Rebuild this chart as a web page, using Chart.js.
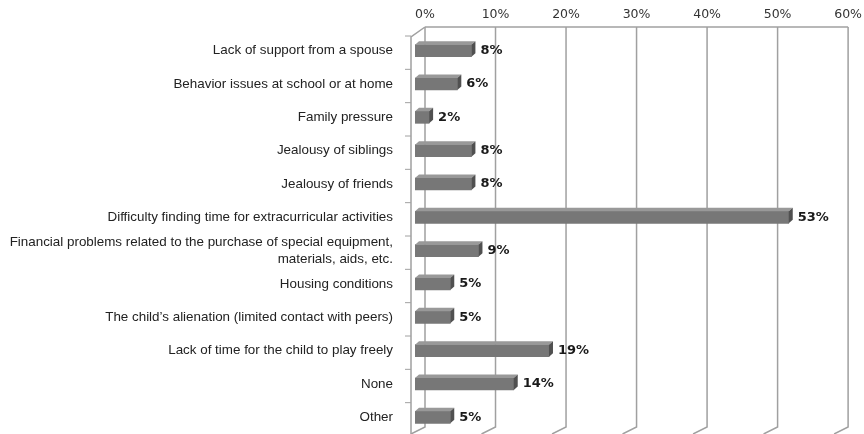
<!DOCTYPE html>
<html>
<head>
<meta charset="utf-8">
<script src="https://cdn.jsdelivr.net/npm/chart.js@4"></script>
<style>
  html, body { margin: 0; padding: 0; background: #ffffff; }
  #wrap { width: 864px; height: 434px; position: relative; }
</style>
</head>
<body>
<div id="wrap"><canvas id="c"></canvas></div>
<script>
const categories = [
  "Lack of support from a spouse",
  "Behavior issues at school or at home",
  "Family pressure",
  "Jealousy of siblings",
  "Jealousy of friends",
  "Difficulty finding time for extracurricular activities",
  ["Financial problems related to the purchase of special equipment,", "materials, aids, etc."],
  "Housing conditions",
  "The child\u2019s alienation (limited contact with peers)",
  "Lack of time for the child to play freely",
  "None",
  "Other"
];
const values = [8, 6, 2, 8, 8, 53, 9, 5, 5, 19, 14, 5];
const tickValues = [0, 10, 20, 30, 40, 50, 60];

const WALL = '#a0a0a0';

const wallPlugin = {
  id: 'wall3d',
  beforeDatasetsDraw(chart) {
    const { ctx, chartArea } = chart;
    const xs = chart.scales.x;
    const backTop = chartArea.top - 7;
    const backBottom = chartArea.bottom - 7;
    ctx.save();
    ctx.strokeStyle = WALL;
    ctx.lineWidth = 1.5;
    ctx.beginPath();
    ctx.moveTo(xs.getPixelForValue(tickValues[0]) + 10, backTop);
    ctx.lineTo(xs.getPixelForValue(tickValues[tickValues.length - 1]) + 10, backTop);
    ctx.stroke();
    tickValues.forEach(v => {
      const x = xs.getPixelForValue(v) + 10;
      ctx.beginPath();
      ctx.moveTo(x, backTop);
      ctx.lineTo(x, backBottom);
      ctx.lineTo(x - 14, backBottom + 7);
      ctx.stroke();
    });
    const lx = chartArea.left - 4;
    ctx.beginPath();
    ctx.moveTo(xs.getPixelForValue(0) + 10, backTop);
    ctx.lineTo(lx, backTop + 10);
    ctx.lineTo(lx, chartArea.bottom + 10);
    ctx.stroke();
    const step = (chartArea.bottom - chartArea.top) / categories.length;
    ctx.lineWidth = 1;
    for (let i = 0; i <= categories.length; i++) {
      const y = chartArea.top + i * step + 2;
      ctx.beginPath();
      ctx.moveTo(lx - 6, y);
      ctx.lineTo(lx, y);
      ctx.stroke();
    }
    ctx.restore();
  },
  afterDatasetsDraw(chart) {
    const { ctx } = chart;
    const meta = chart.getDatasetMeta(0);
    const dx = 4, dy = 3.5;
    ctx.save();
    meta.data.forEach((bar, i) => {
      const p = bar.getProps(['x', 'y', 'base', 'height'], true);
      const top = p.y - p.height / 2;
      const bot = p.y + p.height / 2;
      ctx.fillStyle = '#999999';
      ctx.beginPath();
      ctx.moveTo(p.base, top);
      ctx.lineTo(p.x, top);
      ctx.lineTo(p.x + dx, top - dy);
      ctx.lineTo(p.base + dx, top - dy);
      ctx.closePath();
      ctx.fill();
      ctx.fillStyle = '#505050';
      ctx.beginPath();
      ctx.moveTo(p.x, top);
      ctx.lineTo(p.x + dx, top - dy);
      ctx.lineTo(p.x + dx, bot - dy);
      ctx.lineTo(p.x, bot);
      ctx.closePath();
      ctx.fill();
      ctx.fillStyle = '#1a1a1a';
      ctx.font = 'bold 13px "DejaVu Sans"';
      ctx.textAlign = 'left';
      ctx.textBaseline = 'middle';
      ctx.fillText(values[i] + '%', p.x + 9, p.y);
    });
    ctx.restore();
  }
};

new Chart(document.getElementById('c'), {
  type: 'bar',
  data: {
    labels: categories,
    datasets: [{
      data: values,
      backgroundColor: '#777777',
      borderWidth: 0,
      barThickness: 12
    }]
  },
  options: {
    indexAxis: 'y',
    responsive: true,
    maintainAspectRatio: false,
    animation: false,
    devicePixelRatio: 1,
    layout: { padding: { top: 0, left: 0, right: 25, bottom: 0 } },
    plugins: {
      legend: { display: false },
      tooltip: { enabled: false }
    },
    scales: {
      x: {
        position: 'top',
        min: 0,
        max: 60,
        afterBuildTicks: s => { s.ticks = tickValues.map(v => ({ value: v })); },
        afterFit: s => { s.height = 34; },
        grid: { display: false, drawTicks: false },
        border: { display: false },
        ticks: {
          callback: v => v + '%',
          labelOffset: 10,
          padding: 12,
          maxRotation: 0,
          autoSkip: false,
          color: '#333333',
          font: { family: '"DejaVu Sans"', size: 12.5 }
        }
      },
      y: {
        afterFit: s => { s.width = 415; s.paddingTop = 0; s.paddingBottom = 0; },
        grid: { display: false, drawTicks: false },
        border: { display: false },
        ticks: {
          padding: 22,
          autoSkip: false,
          color: '#222222',
          font: { family: '"Liberation Sans"', size: 13.4, lineHeight: 1.25 }
        }
      }
    }
  },
  plugins: [wallPlugin]
});
</script>
</body>
</html>
